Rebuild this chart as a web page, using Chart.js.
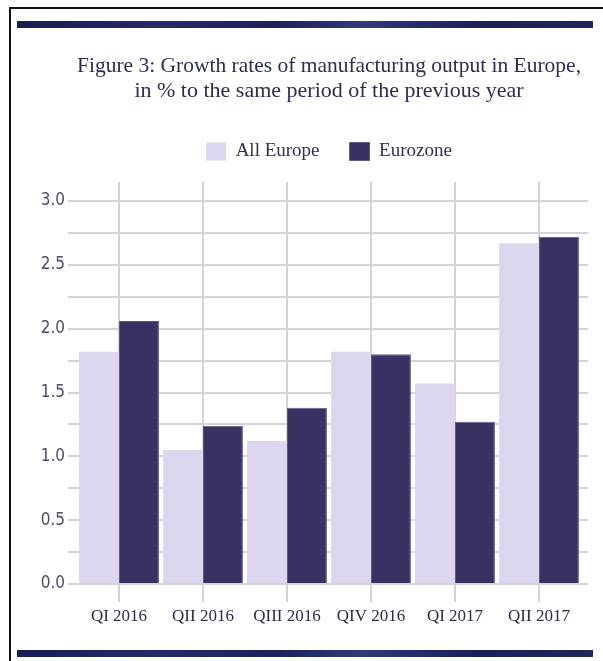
<!DOCTYPE html>
<html>
<head>
<meta charset="utf-8">
<script src="https://cdn.jsdelivr.net/npm/chart.js@4"></script>
<style>
  body { margin: 0; background: #fff; overflow: hidden; }
  #frame { position: absolute; left: 9px; top: 7px; width: 700px; height: 700px; border: 2px solid #111; box-sizing: border-box; }
  .band { position: absolute; left: 17px; width: 576px; height: 7px;
          background: linear-gradient(90deg, #181c58, #242b6a 25%, #1c215e 45%, #2e3a7a 60%, #1a1f5c 80%, #20265f); }
  #wrap { position: absolute; left: 0; top: 0; width: 603px; height: 661px; }
</style>
</head>
<body>
<div id="frame"></div>
<div class="band" style="top:21px"></div>
<div class="band" style="top:650px"></div>
<div id="wrap"><canvas id="chart"></canvas></div>
<script>
const QUARTERS = ['QI 2016', 'QII 2016', 'QIII 2016', 'QIV 2016', 'QI 2017', 'QII 2017'];
const ALL_EUROPE = [1.82, 1.05, 1.12, 1.82, 1.57, 2.67];
const EUROZONE = [2.06, 1.24, 1.38, 1.80, 1.27, 2.72];

const GRID = '#d4d4d4';

var ctx = document.getElementById('chart');
var myChart = new Chart(ctx, {
    type: 'bar',
    data: {
        labels: QUARTERS,
        datasets: [
            {
                label: 'All Europe',
                data: ALL_EUROPE,
                backgroundColor: '#ddd6ee',
                borderWidth: 0,
                xAxisID: 'x',
                yAxisID: 'y',
            },
            {
                label: 'Eurozone',
                data: EUROZONE,
                backgroundColor: '#3a3163',
                borderColor: '#5d5689',
                borderWidth: 1,
                xAxisID: 'x',
                yAxisID: 'y',
            },
        ],
    },
    options: {
      responsive: true,
      maintainAspectRatio: false,
      animation: false,
      devicePixelRatio: 1,
      layout: { padding: 0 },
      datasets: { bar: { categoryPercentage: 0.95, barPercentage: 1.0 } },
      plugins: {
        tooltip: { enabled: false },
        title: {
          display: true,
          fullSize: false,
          text: ['Figure 3: Growth rates of manufacturing output in Europe,',
                 'in % to the same period of the previous year'],
          color: '#2b2e4f',
          font: { family: "'Liberation Serif', serif", size: 22, weight: 'normal', lineHeight: 25 / 22 },
          padding: { top: 54, bottom: 8 }
        },
        legend: {
          fullSize: false,
          labels: {
            color: '#2f3155',
            boxWidth: 20,
            boxHeight: 18,
            padding: 30,
            font: { family: "'Liberation Serif', serif", size: 19 }
          }
        }
      },
      scales: {
          x: {
              position: 'bottom',
              offset: true,
              grid: { color: GRID, lineWidth: 2, offset: false, tickLength: 18 },
              border: { display: false },
              ticks: {
                  color: '#2a2c4c',
                  padding: 4,
                  maxRotation: 0,
                  autoSkip: false,
                  font: { family: "'Liberation Serif', serif", size: 17 }
              },
              afterFit: function (s) { s.height = 77; }
          },
          x2: {
              type: 'category',
              labels: QUARTERS,
              position: 'top',
              offset: true,
              grid: { color: GRID, lineWidth: 2, offset: false, tickLength: 19, drawOnChartArea: false },
              border: { display: false },
              ticks: { display: false },
              afterFit: function (s) { s.height = 30; }
          },
          y: {
              position: 'left',
              min: 0,
              max: 3,
              grid: { color: GRID, lineWidth: 2, tickLength: 9 },
              border: { display: false },
              ticks: {
                  stepSize: 0.25,
                  padding: 3,
                  color: '#4a4e6c',
                  font: { family: "'Liberation Sans Narrow', 'DejaVu Sans Condensed', sans-serif", size: 17 },
                  callback: function (v) { return v % 0.5 === 0 ? v.toFixed(1) : ''; }
              },
              afterFit: function (s) { s.width = 77; }
          },
          y2: {
              position: 'right',
              min: 0,
              max: 3,
              grid: { color: GRID, lineWidth: 2, tickLength: 7, drawOnChartArea: false },
              border: { display: false },
              ticks: { stepSize: 0.25, display: false },
              afterFit: function (s) { s.width = 22; }
          }
      }
    }
});
</script>
</body>
</html>
